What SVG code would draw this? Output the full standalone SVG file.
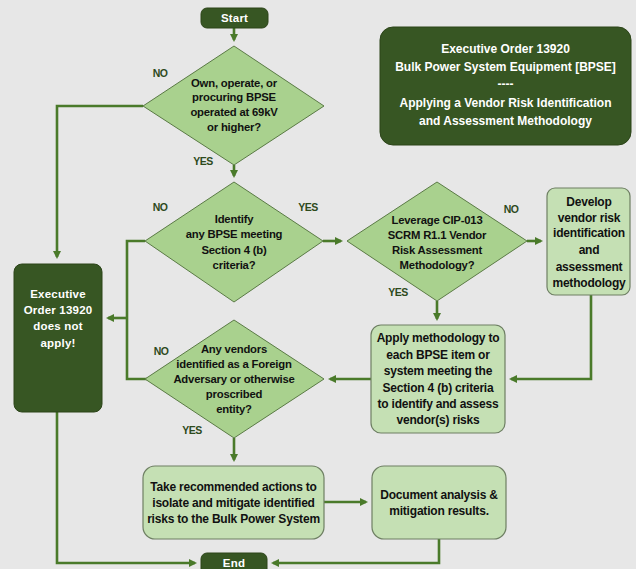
<svg xmlns="http://www.w3.org/2000/svg" width="636" height="569" viewBox="0 0 636 569">
<defs>
<marker id="ah" markerWidth="8" markerHeight="8" refX="6" refY="4" orient="auto" markerUnits="userSpaceOnUse">
<path d="M0,0 L8,4 L0,8 Z" fill="#4a7a2a"/>
</marker>
<style>
.bg{fill:#e7e7e7}
.dark{fill:#375623;stroke:#2c4419;stroke-width:1}
.dia{fill:#a9d18e;stroke:#5a7a45;stroke-width:1}
.box{fill:#c5e0b4;stroke:#6e7f63;stroke-width:1.2}
.con{fill:none;stroke:#4a7a2a;stroke-width:2.6}
text{font-family:"Liberation Sans",Arial,sans-serif;text-anchor:middle}
.t{font-size:11.3px;font-weight:bold;fill:#111;letter-spacing:-0.2px}
.b{font-size:12px;font-weight:bold;fill:#111;letter-spacing:-0.2px}
.w{font-size:11.5px;font-weight:bold;fill:#fff;letter-spacing:0.2px}
.tt{font-size:12px;font-weight:bold;fill:#fff}
.lbl{font-size:10.5px;font-weight:bold;fill:#2e4a1c;letter-spacing:-0.5px}
</style>
</defs>
<rect class="bg" x="0" y="0" width="636" height="569"/>

<g id="connectors">
<path class="con" d="M234,28 V40" marker-end="url(#ah)"/>
<path class="con" d="M234,165 V176" marker-end="url(#ah)"/>
<path class="con" d="M143,106 H57 V257" marker-end="url(#ah)"/>
<path class="con" d="M145,241 H127 V379 H149"/>
<path class="con" d="M127,318 H108" marker-end="url(#ah)"/>
<path class="con" d="M323,241 H341" marker-end="url(#ah)"/>
<path class="con" d="M527,241 H541" marker-end="url(#ah)"/>
<path class="con" d="M437,301 V319" marker-end="url(#ah)"/>
<path class="con" d="M591,295 V379 H511" marker-end="url(#ah)"/>
<path class="con" d="M371,379 H330" marker-end="url(#ah)"/>
<path class="con" d="M234,438 V460" marker-end="url(#ah)"/>
<path class="con" d="M324,502 H366" marker-end="url(#ah)"/>
<path class="con" d="M439,539 V563 H273" marker-end="url(#ah)"/>
<path class="con" d="M57,412 V563 H195" marker-end="url(#ah)"/>
</g>

<g id="start">
<rect class="dark" x="201" y="8" width="67" height="20" rx="6"/>
<text class="w" x="234.5" y="22">Start</text>
</g>

<g id="title">
<rect class="dark" x="380" y="27" width="251" height="118" rx="13"/>
<text class="tt" x="505.5" y="53">Executive Order 13920</text>
<text class="tt" x="505.5" y="71">Bulk Power System Equipment [BPSE]</text>
<text class="tt" x="505.5" y="88">----</text>
<text class="tt" x="505.5" y="107">Applying a Vendor Risk Identification</text>
<text class="tt" x="505.5" y="125">and Assessment Methodology</text>
</g>

<g id="d1">
<polygon class="dia" points="234,46 324,106 234,165 143,106"/>
<text class="t" x="234" y="87">Own, operate, or</text>
<text class="t" x="234" y="101">procuring BPSE</text>
<text class="t" x="234" y="116">operated at 69kV</text>
<text class="t" x="234" y="131">or higher?</text>
<text class="lbl" x="160" y="77">NO</text>
<text class="lbl" x="203" y="165">YES</text>
</g>

<g id="d2">
<polygon class="dia" points="234,182 323,241 234,302 145,241"/>
<text class="t" x="234" y="223">Identify</text>
<text class="t" x="234" y="238">any BPSE meeting</text>
<text class="t" x="234" y="254">Section 4 (b)</text>
<text class="t" x="234" y="269">criteria?</text>
<text class="lbl" x="160" y="211">NO</text>
<text class="lbl" x="308" y="211">YES</text>
</g>

<g id="d4">
<polygon class="dia" points="437,182 527,241 437,301 347,241"/>
<text class="t" x="437" y="224">Leverage CIP-013</text>
<text class="t" x="437" y="239">SCRM R1.1 Vendor</text>
<text class="t" x="437" y="254">Risk Assessment</text>
<text class="t" x="437" y="269">Methodology?</text>
<text class="lbl" x="511" y="213">NO</text>
<text class="lbl" x="398" y="296">YES</text>
</g>

<g id="develop">
<rect class="box" x="547" y="188" width="83" height="107" rx="8"/>
<text class="b" x="589" y="206">Develop</text>
<text class="b" x="589" y="222">vendor risk</text>
<text class="b" x="589" y="237">identification</text>
<text class="b" x="589" y="254">and</text>
<text class="b" x="589" y="271">assessment</text>
<text class="b" x="589" y="287">methodology</text>
</g>

<g id="eo">
<rect class="dark" x="14" y="264" width="88" height="148" rx="8"/>
<text class="w" x="58" y="298">Executive</text>
<text class="w" x="58" y="314">Order 13920</text>
<text class="w" x="58" y="330">does not</text>
<text class="w" x="58" y="347">apply!</text>
</g>

<g id="apply">
<rect class="box" x="371" y="325" width="134" height="108" rx="10"/>
<text class="b" x="438" y="342">Apply methodology to</text>
<text class="b" x="438" y="359">each BPSE item  or</text>
<text class="b" x="438" y="375">system meeting the</text>
<text class="b" x="438" y="392">Section 4 (b) criteria</text>
<text class="b" x="438" y="408">to identify and assess</text>
<text class="b" x="438" y="424">vendor(s) risks</text>
</g>

<g id="d3">
<polygon class="dia" points="234,320 324,379 234,438 145,379"/>
<text class="t" x="234" y="353">Any vendors</text>
<text class="t" x="234" y="368">identified as a Foreign</text>
<text class="t" x="234" y="383">Adversary or otherwise</text>
<text class="t" x="234" y="398">proscribed</text>
<text class="t" x="234" y="413">entity?</text>
<text class="lbl" x="161" y="355">NO</text>
<text class="lbl" x="192" y="434">YES</text>
</g>

<g id="take">
<rect class="box" x="143" y="466" width="181" height="73" rx="12"/>
<text class="b" x="233.5" y="491">Take recommended actions to</text>
<text class="b" x="233.5" y="507">isolate and mitigate identified</text>
<text class="b" x="233.5" y="523">risks to the Bulk Power System</text>
</g>

<g id="document">
<rect class="box" x="372" y="466" width="134" height="73" rx="12"/>
<text class="b" x="439" y="499">Document analysis &amp;</text>
<text class="b" x="439" y="515">mitigation results.</text>
</g>

<g id="end">
<rect class="dark" x="201" y="553" width="66" height="22" rx="6"/>
<text class="w" x="234" y="567">End</text>
</g>
</svg>
